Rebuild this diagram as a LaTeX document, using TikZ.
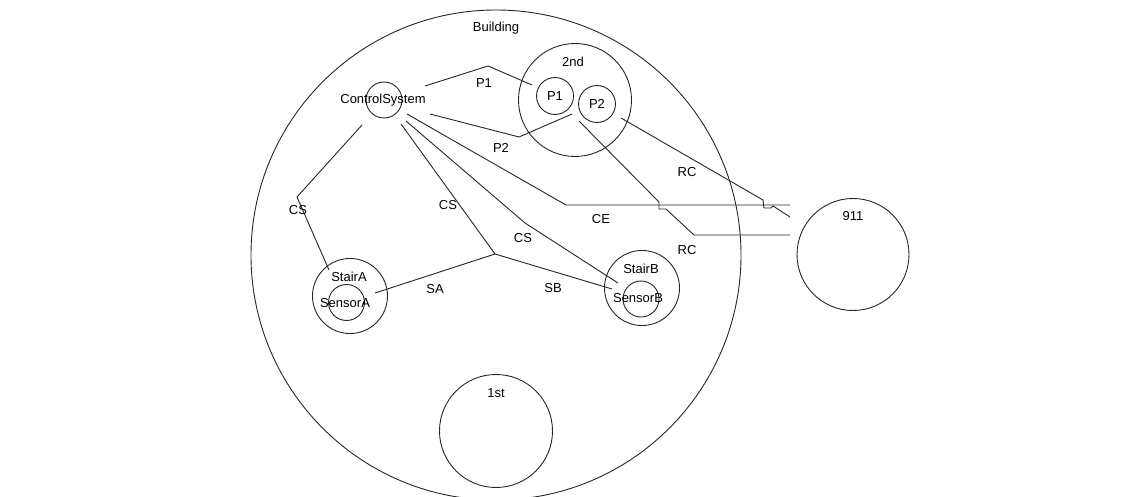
\documentclass[tikz,border=0pt]{standalone}
\usepackage{fontspec}
\setmainfont{Liberation Sans}

\begin{document}
\begin{tikzpicture}[x=1pt,y=-1pt,font=\fontsize{13}{15}\selectfont,
    area/.style={draw=black!85,circle,inner sep=0pt,line width=0.9pt},
    link/.style={draw=black!85,line width=0.9pt}]
  \useasboundingbox (0,0) rectangle (1147,497);

  % circles
  \node[area,minimum size=490] (building) at (496,255) {};
  \node[area,minimum size=113] (second) at (575,100) {};
  \node[area,minimum size=37] (p1) at (555,96) {};
  \node[area,minimum size=37] (p2) at (597,104) {};
  \node[area,minimum size=36] (cs) at (384,100) {};
  \node[area,minimum size=75] (stairA) at (350,296) {};
  \node[area,minimum size=36] (sensorA) at (346.5,302.5) {};
  \node[area,minimum size=75] (stairB) at (642,288) {};
  \node[area,minimum size=36] (sensorB) at (641,299) {};
  \node[area,minimum size=113] (first) at (496,431) {};
  \node[area,minimum size=112] (rescue) at (853,254.5) {};

  % names
  \node (building-t) at (496,28) {Building};
  \node (second-t) at (573,62) {2nd};
  \node (p1-t) at (555,96) {P1};
  \node (p2-t) at (597,104) {P2};
  \node (cs-t) at (383,100) {ControlSystem};
  \node (stairA-t) at (349,277) {StairA};
  \node (sensorA-t) at (345,303) {SensorA};
  \node (stairB-t) at (641,269) {StairB};
  \node (sensorB-t) at (638,298) {SensorB};
  \node (first-t) at (496,393) {1st};
  \node (rescue-t) at (853,216) {911};

  \coordinate (hub) at (495,254);

  % links
  \draw[link] ([shift={(41,-14)}]cs.center) -- (488,66) -- ([shift={(-23,-11)}]p1.center);
  \draw[link] ([shift={(46,14)}]cs.center) -- (519,137) -- ([shift={(-25,10)}]p2.center);
  \draw[link] ([shift={(-22,25)}]cs.center) -- (297,197) -- ([shift={(-21,-26)}]stairA.center);
  \draw[link] ([shift={(17,24)}]cs.center) -- (hub);
  \draw[link] (hub) -- ([shift={(28.5,-9.5)}]sensorA.center);
  \draw[link] (hub) -- ([shift={(-29,-10)}]sensorB.center);
  \draw[link] ([shift={(22,21)}]cs.center) -- (525,223) -- ([shift={(-24,-5)}]stairB.center);
  \draw[link] ([shift={(23,14)}]cs.center) -- (566,205) -- ([shift={(-63,-49.5)}]rescue.center);
  \draw[link] ([shift={(-18,17)}]p2.center) -- (659,202) -- (659,209) -- (666,209)
    -- (694,235) -- ([shift={(-63,-19.5)}]rescue.center);
  \draw[link] ([shift={(24,14)}]p2.center) -- (763,200) -- (764,208) -- (771,208)
    -- (773,206) -- ([shift={(-63,-37.5)}]rescue.center);

  % link labels
  \node at (484,83) {P1};
  \node at (501,148) {P2};
  \node at (298,210) {CS};
  \node at (448,205) {CS};
  \node at (523,238) {CS};
  \node at (601,219) {CE};
  \node at (687,172) {RC};
  \node at (687,250) {RC};
  \node at (435,289) {SA};
  \node at (553,288) {SB};
\end{tikzpicture}
\end{document}
